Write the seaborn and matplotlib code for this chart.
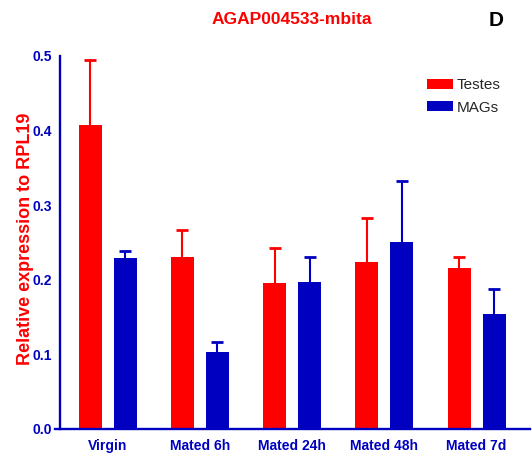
import pandas as pd
import numpy as np
import matplotlib
matplotlib.use("Agg")
import matplotlib.pyplot as plt
import seaborn as sns

# values
conditions = ["Virgin", "Mated 6h", "Mated 24h", "Mated 48h", "Mated 7d"]
testes_mean = [0.407, 0.231, 0.196, 0.224, 0.216]
testes_upper = [0.495, 0.267, 0.243, 0.283, 0.230]
mags_mean = [0.229, 0.103, 0.197, 0.251, 0.154]
mags_upper = [0.238, 0.116, 0.230, 0.333, 0.187]
tissues = ["Testes", "MAGs"]
yticks = [0.0, 0.1, 0.2, 0.3, 0.4, 0.5]

RED = "#ff0000"
BLUE = "#0000c0"

def make_plot():
    df = pd.DataFrame({
        "condition": conditions * 2,
        "tissue": ["Testes"] * len(conditions) + ["MAGs"] * len(conditions),
        "value": testes_mean + mags_mean,
    })

    sns.set_style("white")
    plt.rcParams["font.family"] = ["Liberation Sans", "DejaVu Sans"]

    fig = plt.figure(figsize=(5.32, 4.57), dpi=100)
    ax = fig.add_axes([0.1034, 0.0613, 0.893, 0.8162])

    sns.barplot(data=df, x="condition", y="value", hue="tissue",
                hue_order=tissues, palette={"Testes": RED, "MAGs": BLUE},
                width=0.76, gap=0.345, errorbar=None, saturation=1,
                linewidth=0, ax=ax)

    # upper-only error bars (hide the lower cap sitting on the bar top)
    means = {"Testes": testes_mean, "MAGs": mags_mean}
    uppers = {"Testes": testes_upper, "MAGs": mags_upper}
    colors = {"Testes": RED, "MAGs": BLUE}
    for cont, t in zip(ax.containers, tissues):
        xs = [p.get_x() + p.get_width() / 2 for p in cont.patches]
        m = np.array(means[t])
        up = np.array(uppers[t]) - m
        eb = ax.errorbar(xs, m, yerr=[np.zeros_like(up), up], fmt="none",
                         ecolor=colors[t], elinewidth=1.5, capsize=4.6,
                         capthick=2.0, zorder=1)
        caps = eb[1]
        if len(caps) == 2:
            caps[0].set_visible(False)

    ax.set_ylim(0, 0.5)
    ax.set_xlim(-0.57, 4.58)
    ax.set_yticks(yticks)
    ax.set_yticklabels([f"{v:.1f}" for v in yticks])
    ax.set_xlabel("")
    ax.set_ylabel("Relative expression to RPL19", color=RED,
                  fontsize=13, fontweight="bold")
    ax.yaxis.set_label_coords(-0.045, 0.51)

    for s in ["top", "right"]:
        ax.spines[s].set_visible(False)
    ax.spines["left"].set_position(("data", -0.515))
    for s in ["left", "bottom"]:
        ax.spines[s].set_color(BLUE)
        ax.spines[s].set_linewidth(1.7)

    ax.tick_params(axis="y", direction="out", length=4, width=1.7,
                   color=BLUE, labelcolor=BLUE, labelsize=10, pad=2)
    ax.tick_params(axis="x", direction="out", length=5, width=1.7,
                   color=BLUE, labelcolor=BLUE, labelsize=10, pad=2)
    for lab in ax.get_xticklabels() + ax.get_yticklabels():
        lab.set_fontweight("bold")

    ax.legend(frameon=False, loc="upper left", bbox_to_anchor=(0.783, 0.94),
              borderpad=0, borderaxespad=0, handlelength=1.7,
              handleheight=0.65, handletextpad=0.25, labelspacing=0.55,
              fontsize=11)

    fig.text(292 / 532, 1 - 20 / 457, "AGAP004533-mbita", color=RED,
             fontsize=12.5, fontweight="bold", ha="center", va="center")
    fig.text(496 / 532, 1 - 20 / 457, "D", color="black",
             fontsize=15, fontweight="bold", ha="center", va="center")

    fig.savefig("out.png", dpi=100)

if __name__ == "__main__":
    make_plot()
